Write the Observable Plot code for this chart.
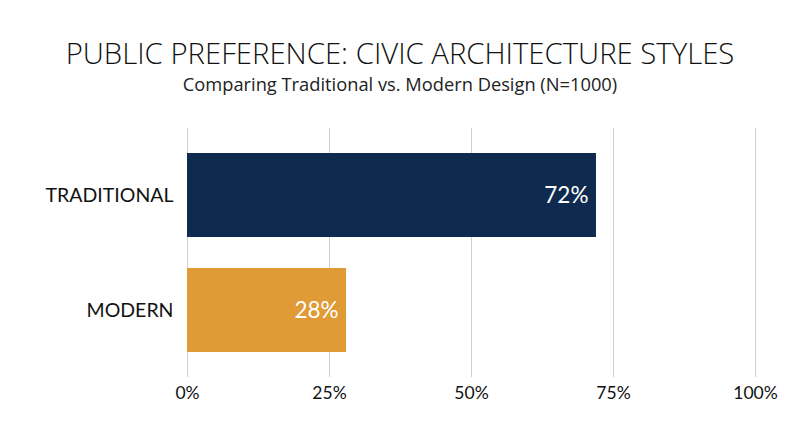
<!DOCTYPE html>
<html>
<head>
<meta charset="utf-8">
<script src="https://cdn.jsdelivr.net/npm/d3@7"></script>
<script src="https://cdn.jsdelivr.net/npm/@observablehq/plot@0.6"></script>
<style>
  body { margin: 0; background: #fff; width: 800px; height: 447px; overflow: hidden; }
  #header { height: 110px; position: relative; text-align: center; color: #111; }
  #title { position: absolute; left: 0; right: 0; top: 33px; font-family: "Open Sans", sans-serif; font-weight: 300; font-size: 29.3px; letter-spacing: 0px; }
  #subtitle { position: absolute; left: 0; right: 0; top: 71px; font-family: "Open Sans", sans-serif; font-weight: 400; font-size: 18.3px; color: #222; }
</style>
</head>
<body>
<div id="header">
  <div id="title">PUBLIC PREFERENCE: CIVIC ARCHITECTURE STYLES</div>
  <div id="subtitle">Comparing Traditional vs. Modern Design (N=1000)</div>
</div>
<div id="chart"></div>
<script>
const categories = ["TRADITIONAL", "MODERN"];
const values = [72, 28];
const colors = ["#0f2a4f", "#e09a36"];
const xTicks = [0, 25, 50, 75, 100];

const data = categories.map((c, i) => ({category: c, value: values[i], color: colors[i]}));

const chart = Plot.plot({
  width: 800,
  height: 337,
  marginTop: 18,
  marginBottom: 70,
  marginLeft: 187,
  marginRight: 45,
  style: {fontFamily: "Lato, sans-serif", fontSize: "16px", color: "#111"},
  x: {domain: [0, 100], ticks: xTicks, tickFormat: d => d + "%", label: null},
  y: {domain: categories, label: null, paddingInner: 0.267, paddingOuter: 0.207},
  marks: [
    Plot.gridX(xTicks, {stroke: "#d0d0d0", strokeOpacity: 1, strokeWidth: 1}),
    Plot.barX(data, {x: "value", y: "category", fill: "color"}),
    Plot.text(data, {x: "value", y: "category", text: d => d.value + "%", fill: "white", textAnchor: "end", dx: -8, fontSize: 22.5, fontWeight: 400}),
    Plot.axisX(xTicks, {tickSize: 0, tickPadding: 9, fontSize: 17.5, tickFormat: d => d + "%", label: null}),
    Plot.axisY({tickSize: 0, tickPadding: 14, fontSize: 19.5, label: null})
  ]
});
document.getElementById("chart").appendChild(chart);
</script>
</body>
</html>
